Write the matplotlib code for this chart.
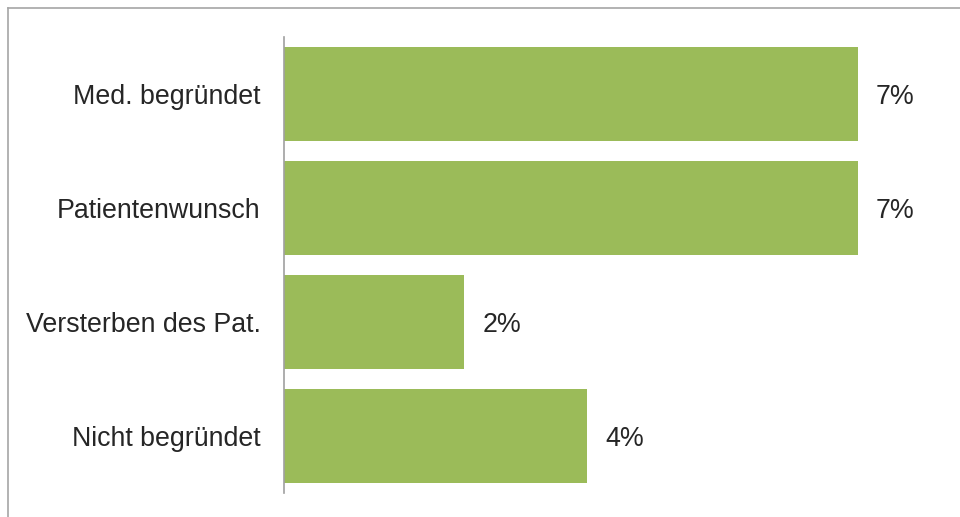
import matplotlib.pyplot as plt
from matplotlib.lines import Line2D

# Gründe (von oben nach unten)
categories = ["Med. begründet", "Patientenwunsch", "Versterben des Pat.", "Nicht begründet"]
values = [7.0, 7.0, 2.2, 3.7]
labels = ["7%", "7%", "2%", "4%"]

plt.rcParams['font.family'] = ['Liberation Sans', 'DejaVu Sans']

fig = plt.figure(figsize=(9.6, 5.17), dpi=100)
ax = fig.add_axes([0.296, 0.0464, 0.683, 0.8820])

y = list(range(len(categories)))
ax.barh(y, values, height=0.83, color='#9BBB59')
ax.set_ylim(len(categories) - 0.5, -0.5)
ax.set_xlim(0, 8)

for yi, v, lab in zip(y, values, labels):
    ax.annotate(lab, (v, yi), xytext=(13, 0), textcoords='offset points',
                va='center_baseline', ha='left', fontsize=19.3, color='#262626')

ax.set_yticks(y)
ax.set_yticklabels(categories, fontsize=19.3, color='#262626')
ax.tick_params(axis='y', length=0, pad=17)
ax.set_xticks([])
for s in ['top', 'right', 'bottom']:
    ax.spines[s].set_visible(False)
ax.spines['left'].set_color('#A0A0A0')
ax.spines['left'].set_linewidth(1.2)

# grauer Rahmen oben und links
fig.add_artist(Line2D([8/960, 1], [1 - 8/517, 1 - 8/517], color='#A6A6A6', lw=1.2, transform=fig.transFigure))
fig.add_artist(Line2D([8/960, 8/960], [0, 1 - 8/517], color='#A6A6A6', lw=1.2, transform=fig.transFigure))

fig.savefig('out.png', dpi=100)
